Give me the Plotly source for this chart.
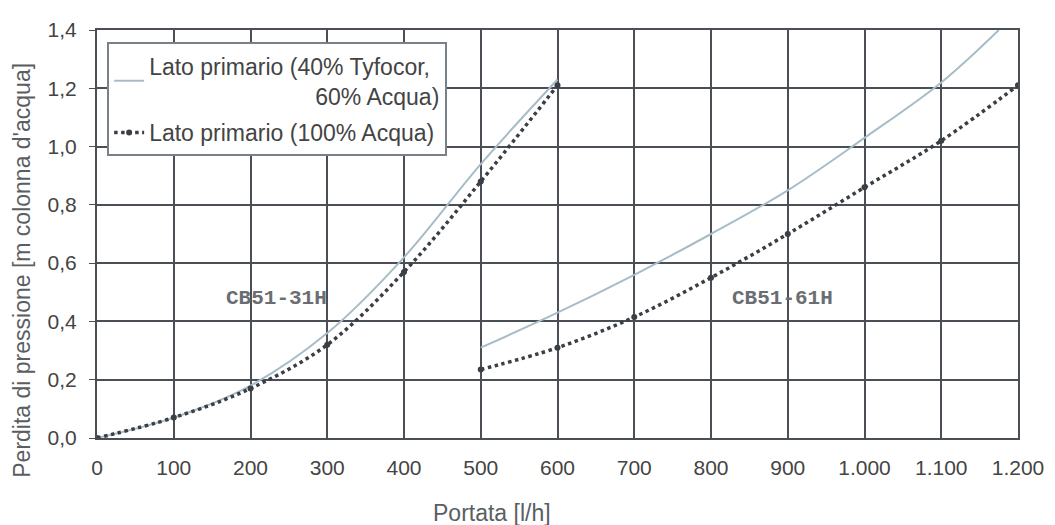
import plotly.graph_objects as go

# CB51-31H
x31 = [0, 100, 200, 300, 400, 500, 600]
y31_glycol = [0.0, 0.07, 0.18, 0.36, 0.62, 0.94, 1.23]
y31_water = [0.0, 0.07, 0.17, 0.32, 0.57, 0.88, 1.21]

# CB51-61H
x61_glycol = [500, 600, 700, 800, 900, 1000, 1100, 1175]
y61_glycol = [0.31, 0.43, 0.56, 0.70, 0.85, 1.03, 1.22, 1.40]
x61_water = [500, 600, 700, 800, 900, 1000, 1100, 1200]
y61_water = [0.235, 0.31, 0.415, 0.55, 0.70, 0.86, 1.02, 1.21]

x_ticks = [0, 100, 200, 300, 400, 500, 600, 700, 800, 900, 1000, 1100, 1200]
x_ticklabels = ["0", "100", "200", "300", "400", "500", "600", "700", "800", "900", "1.000", "1.100", "1.200"]
y_ticks = [0.0, 0.2, 0.4, 0.6, 0.8, 1.0, 1.2, 1.4]
y_ticklabels = ["0,0", "0,2", "0,4", "0,6", "0,8", "1,0", "1,2", "1,4"]

solid_col = "#a8bcc8"
dot_col = "#3a3f45"
nb = "\u00a0"
sans = "Liberation Sans, Arial, sans-serif"
mono = "Liberation Mono, DejaVu Sans Mono, monospace"

fig = go.Figure()
fig.add_trace(go.Scatter(x=x31, y=y31_glycol, mode="lines", line=dict(color=solid_col, width=2, shape="spline"),
                         name="Lato primario (40% Tyfocor,<br>" + nb * 26 + "60% Acqua)", legendgroup="g"))
fig.add_trace(go.Scatter(x=x31, y=y31_water, mode="lines+markers", line=dict(color=dot_col, width=3.5, dash="dot", shape="spline"),
                         marker=dict(size=6, color=dot_col),
                         name="Lato primario (100% Acqua)", legendgroup="w"))
fig.add_trace(go.Scatter(x=x61_glycol, y=y61_glycol, mode="lines", line=dict(color=solid_col, width=2, shape="spline"),
                         showlegend=False, legendgroup="g"))
fig.add_trace(go.Scatter(x=x61_water, y=y61_water, mode="lines+markers", line=dict(color=dot_col, width=3.5, dash="dot", shape="spline"),
                         marker=dict(size=6, color=dot_col), showlegend=False, legendgroup="w"))

fig.add_annotation(x=234, y=0.48, text="<b>CB51-31H</b>", showarrow=False,
                   font=dict(family=mono, size=21, color="#6a6e72"))
fig.add_annotation(x=893, y=0.48, text="<b>CB51-61H</b>", showarrow=False,
                   font=dict(family=mono, size=21, color="#6a6e72"))

# axis titles
fig.add_annotation(xref="paper", yref="paper", x=0.429, y=-0.184, xanchor="center", yanchor="middle",
                   text="Portata [l/h]", showarrow=False, font=dict(family=sans, size=23, color="#5a5e62"))
fig.add_annotation(xref="paper", yref="paper", x=-0.0814, y=0.41, xanchor="center", yanchor="middle",
                   text="Perdita di pressione [m colonna d'acqua]", textangle=-90, showarrow=False,
                   font=dict(family=sans, size=23, color="#5a5e62"))

fig.update_layout(
    width=1055, height=525,
    margin=dict(l=97, r=37, t=30, b=87),
    paper_bgcolor="white", plot_bgcolor="white",
    font=dict(family=sans, size=21, color="#444"),
    showlegend=True,
    legend=dict(x=0.011, y=0.97, xanchor="left", yanchor="top", bgcolor="white",
                bordercolor="#7a8088", borderwidth=2, font=dict(family=sans, size=23, color="#444"),
                tracegroupgap=4, itemwidth=30),
    xaxis=dict(range=[0, 1200], tickvals=x_ticks, ticktext=x_ticklabels, showgrid=True,
               gridcolor="#4a4f55", gridwidth=2, showline=True, linecolor="#4a4f55", linewidth=2,
               mirror=True, zeroline=False, ticks="", ticklabelstandoff=10,
               tickfont=dict(family=sans, size=21, color="#444")),
    yaxis=dict(range=[0, 1.4], tickvals=y_ticks, ticktext=y_ticklabels, showgrid=True,
               gridcolor="#4a4f55", gridwidth=2, showline=True, linecolor="#4a4f55", linewidth=2,
               mirror=True, zeroline=False, ticks="outside", ticklen=6, tickcolor="#4a4f55",
               ticklabelstandoff=8, tickfont=dict(family=sans, size=21, color="#444")),
)

fig.write_html("out.html")
